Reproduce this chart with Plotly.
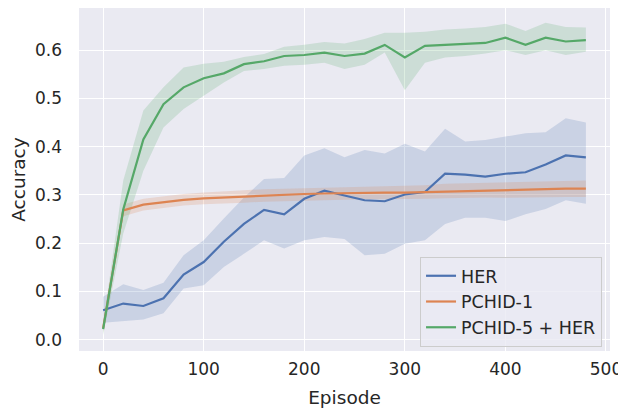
import plotly.graph_objects as go

episodes = [0, 20, 40, 60, 80, 100, 120, 140, 160, 180, 200, 220, 240,
            260, 280, 300, 320, 340, 360, 380, 400, 420, 440, 460, 480]

her_mean = [0.061, 0.075, 0.070, 0.086, 0.135, 0.161, 0.203, 0.240, 0.269, 0.260, 0.292, 0.309, 0.299,
            0.289, 0.287, 0.301, 0.306, 0.344, 0.342, 0.338, 0.344, 0.347, 0.363, 0.382, 0.378]
her_upper = [0.089, 0.115, 0.103, 0.118, 0.175, 0.206, 0.251, 0.295, 0.333, 0.335, 0.382, 0.397, 0.378,
             0.393, 0.386, 0.406, 0.390, 0.437, 0.411, 0.414, 0.421, 0.428, 0.430, 0.459, 0.450]
her_lower = [0.035, 0.039, 0.042, 0.055, 0.106, 0.113, 0.151, 0.178, 0.206, 0.189, 0.206, 0.213, 0.209,
             0.175, 0.178, 0.199, 0.206, 0.240, 0.253, 0.253, 0.246, 0.260, 0.271, 0.289, 0.282]

p1_mean = [0.024, 0.268, 0.280, 0.285, 0.290, 0.293, 0.295, 0.297, 0.299, 0.300, 0.302, 0.303, 0.304,
           0.304, 0.305, 0.305, 0.306, 0.308, 0.309, 0.310, 0.310, 0.311, 0.312, 0.313, 0.313]
p1_upper = [0.032, 0.280, 0.292, 0.297, 0.302, 0.305, 0.308, 0.310, 0.312, 0.313, 0.315, 0.316, 0.317,
            0.317, 0.319, 0.319, 0.320, 0.323, 0.324, 0.325, 0.326, 0.327, 0.328, 0.330, 0.330]
p1_lower = [0.016, 0.256, 0.268, 0.273, 0.278, 0.281, 0.282, 0.284, 0.286, 0.287, 0.289, 0.290, 0.291,
            0.291, 0.291, 0.291, 0.292, 0.293, 0.294, 0.295, 0.294, 0.295, 0.296, 0.296, 0.296]

p5_mean = [0.022, 0.270, 0.415, 0.488, 0.523, 0.542, 0.552, 0.571, 0.577, 0.588, 0.590, 0.595, 0.588,
           0.593, 0.611, 0.585, 0.609, 0.611, 0.614, 0.615, 0.626, 0.611, 0.626, 0.618, 0.621]
p5_upper = [0.032, 0.330, 0.475, 0.523, 0.564, 0.572, 0.576, 0.586, 0.592, 0.607, 0.611, 0.617, 0.614,
            0.623, 0.636, 0.636, 0.638, 0.643, 0.645, 0.648, 0.655, 0.640, 0.657, 0.648, 0.647]
p5_lower = [0.010, 0.220, 0.350, 0.440, 0.478, 0.506, 0.533, 0.557, 0.561, 0.568, 0.570, 0.574, 0.561,
            0.570, 0.595, 0.517, 0.574, 0.585, 0.588, 0.593, 0.600, 0.590, 0.600, 0.590, 0.597]

x_ticks = [0, 100, 200, 300, 400, 500]
y_ticks = [0.0, 0.1, 0.2, 0.3, 0.4, 0.5, 0.6]

series = [
    ("HER", her_mean, her_upper, her_lower, "#4c72b0", "rgba(76,114,176,0.2)"),
    ("PCHID-1", p1_mean, p1_upper, p1_lower, "#dd8452", "rgba(221,132,82,0.2)"),
    ("PCHID-5 + HER", p5_mean, p5_upper, p5_lower, "#55a868", "rgba(85,168,104,0.2)"),
]

fig = go.Figure()
for name, mean, up, lo, col, fillcol in series:
    fig.add_trace(go.Scatter(x=episodes, y=up, mode="lines", line=dict(width=0),
                             showlegend=False, hoverinfo="skip"))
    fig.add_trace(go.Scatter(x=episodes, y=lo, mode="lines", line=dict(width=0),
                             fill="tonexty", fillcolor=fillcol,
                             showlegend=False, hoverinfo="skip"))
for name, mean, up, lo, col, fillcol in series:
    fig.add_trace(go.Scatter(x=episodes, y=mean, mode="lines", name=name,
                             line=dict(color=col, width=2.2)))

# The page body has an 8px margin, so the figure is sized to fit the 626x409 window.
fig.update_layout(
    width=618, height=401,
    margin=dict(l=71, r=16, t=0, b=58),
    paper_bgcolor="white",
    plot_bgcolor="#eaeaf2",
    font=dict(family="DejaVu Sans", size=17, color="#262626"),
    showlegend=True,
    legend=dict(x=0.985, y=0.012, xanchor="right", yanchor="bottom",
                traceorder="normal", itemwidth=30, entrywidth=185,
                bgcolor="rgba(234,234,242,0.8)", bordercolor="#cccccc", borderwidth=1,
                font=dict(size=17.5), tracegroupgap=0),
    xaxis=dict(range=[-24, 504], tickvals=x_ticks, ticktext=[str(v) for v in x_ticks],
               showgrid=True, gridcolor="white", gridwidth=1.3, zeroline=False, automargin=False,
               showline=False, ticks="", title=dict(text="Episode", font=dict(size=18.5), standoff=13),
               ticklabelstandoff=6),
    yaxis=dict(range=[-0.0233, 0.6874], tickvals=y_ticks, ticktext=[f"{v:.1f}" for v in y_ticks],
               showgrid=True, gridcolor="white", gridwidth=1.3, zeroline=False, automargin=False,
               showline=False, ticks="", title=dict(text="Accuracy", font=dict(size=18.5), standoff=4),
               ticklabelstandoff=16),
)

fig.write_html("out.html")
